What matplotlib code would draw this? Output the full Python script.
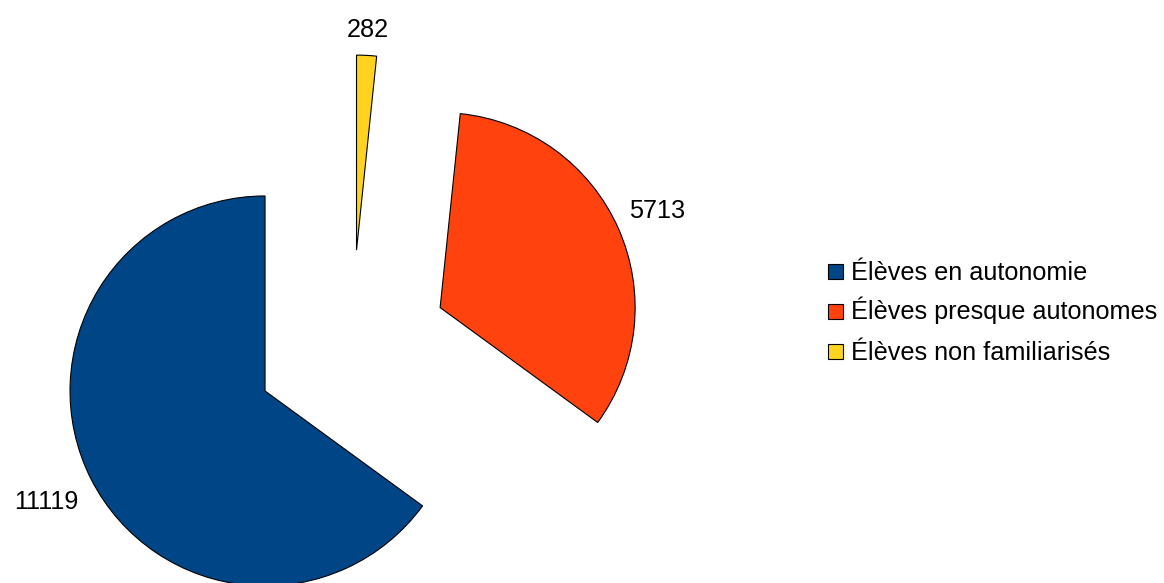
import numpy as np
import matplotlib
matplotlib.use("Agg")
import matplotlib.pyplot as plt
from matplotlib.patches import Rectangle

categories = ["Élèves en autonomie", "Élèves presque autonomes", "Élèves non familiarisés"]
values = [11119, 5713, 282]
colors = ["#004586", "#ff420e", "#ffd320"]
label_dist = [1.26, 1.22, 1.13]

plt.rcParams['font.family'] = ['Liberation Sans', 'DejaVu Sans']
FS = 18.2

W, H = 1164, 583
fig = plt.figure(figsize=(W / 100, H / 100), dpi=100)
ax = fig.add_axes([0, 0, 1, 1])

R = 195
C = (351.5, H - 347)
wedges, texts = ax.pie(values, colors=colors, startangle=90, counterclock=True,
                       center=C, radius=R, explode=[97] * 3,
                       labels=[str(v) for v in values], labeldistance=1.1,
                       wedgeprops=dict(edgecolor='black', linewidth=0.8),
                       textprops=dict(fontsize=FS, color='black'))

for w, t, d in zip(wedges, texts, label_dist):
    th = np.deg2rad((w.theta1 + w.theta2) / 2)
    cx, cy = w.center
    t.set_position((cx + d * R * np.cos(th), cy + d * R * np.sin(th)))
    t.set_ha('center')
    t.set_va('center')

ax.set_xlim(0, W)
ax.set_ylim(0, H)
ax.set_aspect('equal')
ax.axis('off')

# legend (drawn as patches + text for uniform row spacing)
leg_x, leg_y0, row_gap, sq = 828, 271.5, 40, 15
for i, (cat, col) in enumerate(zip(categories, colors)):
    yc = H - (leg_y0 + i * row_gap)
    ax.add_patch(Rectangle((leg_x, yc - sq / 2), sq, sq, facecolor=col,
                           edgecolor='black', linewidth=0.8))
    ax.text(leg_x + sq + 8, yc - 8, cat, fontsize=FS, ha='left',
            va='baseline', color='black')

fig.savefig("out.png", dpi=100)
